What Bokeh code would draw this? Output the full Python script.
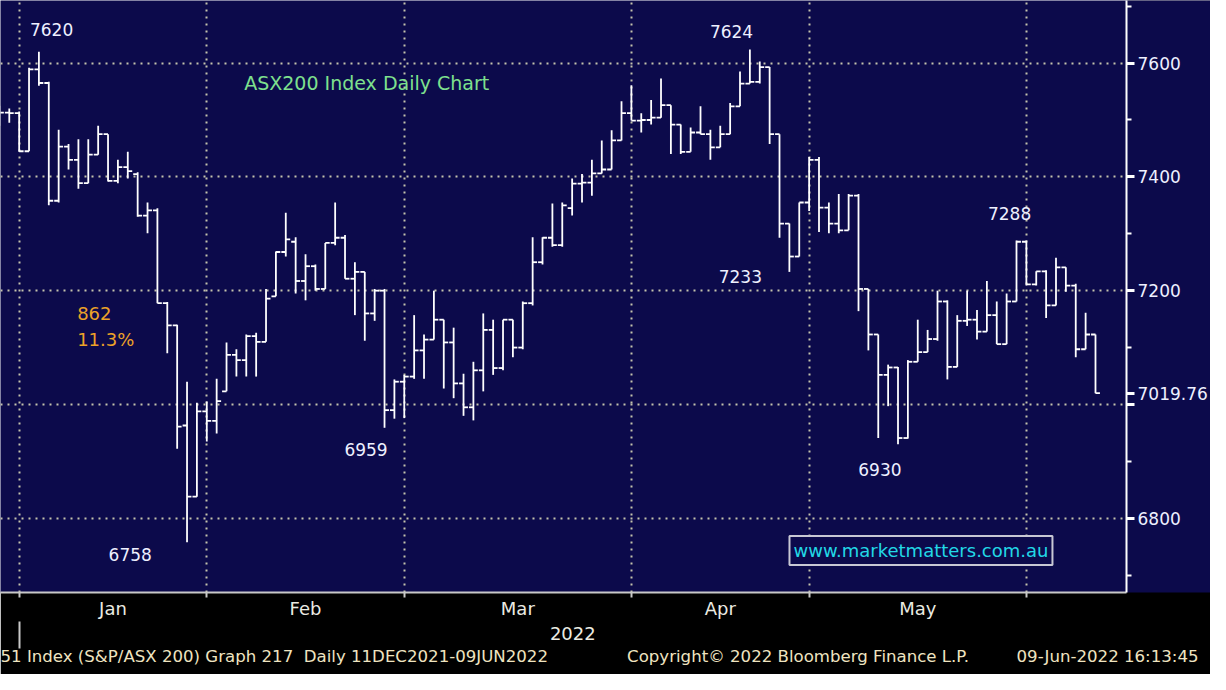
from bokeh.plotting import figure
from bokeh.models import Range1d, LinearAxis, FixedTicker, Label, ColumnDataSource, Title
from bokeh.embed import file_html
from bokeh.resources import INLINE

# ---------------- data ----------------
dates = [
    "2021-12-29", "2021-12-30", "2021-12-31",
    "2022-01-04", "2022-01-05", "2022-01-06", "2022-01-07", "2022-01-10", "2022-01-11", "2022-01-12",
    "2022-01-13", "2022-01-14", "2022-01-17", "2022-01-18", "2022-01-19", "2022-01-20", "2022-01-21",
    "2022-01-24", "2022-01-25", "2022-01-27", "2022-01-28", "2022-01-31",
    "2022-02-01", "2022-02-02", "2022-02-03", "2022-02-04", "2022-02-07", "2022-02-08", "2022-02-09",
    "2022-02-10", "2022-02-11", "2022-02-14", "2022-02-15", "2022-02-16", "2022-02-17", "2022-02-18",
    "2022-02-21", "2022-02-22", "2022-02-23", "2022-02-24", "2022-02-25", "2022-02-28",
    "2022-03-01", "2022-03-02", "2022-03-03", "2022-03-04", "2022-03-07", "2022-03-08", "2022-03-09",
    "2022-03-10", "2022-03-11", "2022-03-14", "2022-03-15", "2022-03-16", "2022-03-17", "2022-03-18",
    "2022-03-21", "2022-03-22", "2022-03-23", "2022-03-24", "2022-03-25", "2022-03-28", "2022-03-29",
    "2022-03-30", "2022-03-31",
    "2022-04-01", "2022-04-04", "2022-04-05", "2022-04-06", "2022-04-07", "2022-04-08", "2022-04-11",
    "2022-04-12", "2022-04-13", "2022-04-14", "2022-04-19", "2022-04-20", "2022-04-21", "2022-04-22",
    "2022-04-26", "2022-04-27", "2022-04-28", "2022-04-29",
    "2022-05-02", "2022-05-03", "2022-05-04", "2022-05-05", "2022-05-06", "2022-05-09", "2022-05-10",
    "2022-05-11", "2022-05-12", "2022-05-13", "2022-05-16", "2022-05-17", "2022-05-18", "2022-05-19",
    "2022-05-20", "2022-05-23", "2022-05-24", "2022-05-25", "2022-05-26", "2022-05-27", "2022-05-30",
    "2022-05-31",
    "2022-06-01", "2022-06-02", "2022-06-03", "2022-06-06", "2022-06-07", "2022-06-08", "2022-06-09",
]

opens = [
    7510, 7513, 7512,
    7445, 7589, 7565, 7358, 7453, 7430, 7389, 7439, 7475, 7393, 7417, 7405, 7332, 7341, 7178, 7139,
    6963, 6838, 6988,
    6971, 7023, 7087, 7078, 7120, 7110, 7190, 7268, 7286, 7217, 7243, 7203, 7284, 7293, 7221, 7233,
    7160, 7200, 6990, 7040,
    7049, 7095, 7114, 7149, 7109, 7037, 6995, 7060, 7131, 7064, 7149, 7100, 7178, 7250, 7293, 7280,
    7345, 7388, 7390, 7406, 7413, 7464, 7512,
    7499, 7500, 7504, 7526, 7492, 7444, 7478, 7475, 7452, 7475, 7524, 7564, 7567, 7593, 7475, 7318,
    7260, 7355,
    7430, 7346, 7318, 7306, 7367, 7203, 7123, 7052, 7065, 6941, 7075, 7092, 7115, 7181, 7066, 7147,
    7149, 7128, 7157, 7106, 7181, 7286,
    7211, 7234, 7174, 7241, 7209, 7097, 7123,
]
highs = [
    7525, 7520, 7515,
    7592, 7620, 7567, 7483, 7458, 7466, 7466, 7490, 7475, 7430, 7444, 7408, 7355, 7345, 7180, 7140,
    7040, 7003, 7005,
    7045, 7109, 7097, 7123, 7126, 7203, 7269, 7337, 7294, 7264, 7246, 7284, 7355, 7298, 7250, 7233,
    7203, 7203, 7044, 7052,
    7157, 7123, 7200, 7149, 7135, 7054, 7075, 7160, 7149, 7149, 7149, 7181, 7294, 7294, 7353, 7355,
    7397, 7405, 7430, 7464, 7482, 7533, 7561,
    7512, 7535, 7573, 7526, 7492, 7487, 7524, 7483, 7490, 7530, 7585, 7624, 7603, 7593, 7475, 7318,
    7355, 7435,
    7435, 7355, 7370, 7370, 7370, 7203, 7123, 7070, 7066, 7078, 7149, 7131, 7200, 7183, 7157, 7200,
    7166, 7217, 7181, 7195, 7288, 7288,
    7234, 7236, 7258, 7241, 7212, 7161, 7123,
]
lows = [
    7490, 7495, 7444,
    7445, 7560, 7350, 7355, 7413, 7379, 7389, 7439, 7392, 7389, 7397, 7330, 7301, 7178, 7090, 6922,
    6758, 6838, 6935,
    6949, 7023, 7049, 7049, 7049, 7110, 7190, 7260, 7195, 7183, 7200, 7203, 7280, 7221, 7157, 7112,
    7147, 6959, 6975, 6976,
    7045, 7045, 7114, 7028, 7011, 6980, 6972, 7023, 7052, 7060, 7083, 7097, 7174, 7246, 7277, 7277,
    7332, 7355, 7367, 7406, 7413, 7464, 7499,
    7478, 7492, 7504, 7440, 7440, 7444, 7475, 7430, 7452, 7475, 7524, 7564, 7564, 7458, 7293, 7233,
    7260, 7340,
    7303, 7301, 7301, 7306, 7164, 7095, 6941, 6997, 6930, 6940, 7075, 7092, 7112, 7044, 7066, 7138,
    7114, 7128, 7106, 7106, 7181, 7209,
    7209, 7152, 7174, 7198, 7083, 7097, 7019.76,
]
closes = [
    7513, 7512, 7445,
    7589, 7565, 7358, 7453, 7430, 7389, 7439, 7475, 7393, 7417, 7410, 7332, 7341, 7178, 7139, 6961,
    6838, 6988, 6971,
    7006, 7087, 7078, 7120, 7110, 7186, 7268, 7290, 7217, 7243, 7203, 7284, 7293, 7221, 7233, 7160,
    7200, 6990, 7040, 7049,
    7095, 7114, 7149, 7109, 7037, 6995, 7060, 7131, 7064, 7149, 7100, 7178, 7250, 7293, 7280, 7350,
    7388, 7390, 7406, 7413, 7464, 7512, 7499,
    7500, 7504, 7526, 7492, 7444, 7478, 7475, 7452, 7475, 7524, 7564, 7567, 7593, 7475, 7318, 7260,
    7355, 7430,
    7346, 7318, 7306, 7367, 7203, 7123, 7052, 7065, 6941, 7075, 7092, 7115, 7181, 7066, 7147, 7149,
    7128, 7157, 7106, 7181, 7286, 7211,
    7234, 7174, 7241, 7209, 7097, 7123, 7019.76,
]

y_ticks = [6800, 7000, 7200, 7400, 7600]
y_minor_ticks = [6700, 6900, 7100, 7300, 7500, 7700]
month_names = ["Jan", "Feb", "Mar", "Apr", "May"]
year_text = "2022"
chart_title = "ASX200 Index Daily Chart"
website = "www.marketmatters.com.au"
footer_parts = ["51 Index (S&P/ASX 200) Graph 217\u00a0 Daily 11DEC2021-09JUN2022",
                "Copyright\u00a9 2022 Bloomberg Finance L.P.",
                "09-Jun-2022 16:13:45"]

# ---------------- derived ----------------
first_2022 = dates.index("2022-01-04")
idx = [k - first_2022 for k in range(len(dates))]
bounds = [idx[k] for k in range(len(dates) - 1) if dates[k][:7] != dates[k + 1][:7]]
mids = [(bounds[k] + bounds[k + 1]) / 2 for k in range(len(bounds) - 1)]
last_close = closes[-1]

TICK = 0.45
src = ColumnDataSource(dict(
    x=idx, o=opens, h=highs, l=lows, c=closes,
    xl=[v - TICK for v in idx], xr=[v + TICK for v in idx],
))

X0, X1 = -2.89, 111.14
Y0, Y1 = 6669.5, 7710.0

NAVY = "#0c0a4b"
GRID = "#c4c3ad"
FONT = "DejaVu Sans"

p = figure(width=1210, height=674, x_range=Range1d(X0, X1), y_range=Range1d(Y0, Y1),
           output_backend="svg", toolbar_location=None, y_axis_location="right",
           background_fill_color=NAVY, border_fill_color="black", outline_line_color=None,
           min_border_left=0, min_border_top=0, min_border_right=79, min_border_bottom=82)

# OHLC bars
BAR = dict(line_color="white", line_width=1.8)
p.segment(x0="x", y0="l", x1="x", y1="h", source=src, **BAR)
p.segment(x0="xl", y0="o", x1="x", y1="o", source=src, **BAR)
p.segment(x0="x", y0="c", x1="xr", y1="c", source=src, **BAR)

# right value axis (last price shown as its own tick label)
ya = p.yaxis[0]
ya.ticker = FixedTicker(ticks=sorted(y_ticks + [last_close]), minor_ticks=y_minor_ticks)
ya.major_label_overrides = {7000: "", last_close: f"{last_close:.2f}"}
ya.axis_line_color = "white"
ya.axis_line_width = 2
ya.major_tick_line_color = "white"
ya.major_tick_line_width = 3
ya.major_tick_in = 0
ya.major_tick_out = 8
ya.minor_tick_line_color = "white"
ya.minor_tick_line_width = 2
ya.minor_tick_in = 0
ya.minor_tick_out = 5
ya.major_label_text_color = "#eef0ff"
ya.major_label_text_font = FONT
ya.major_label_text_font_size = "17px"
ya.major_label_standoff = 3
if "background_fill_color" in ya.properties():
    ya.background_fill_color = NAVY

p.ygrid.ticker = FixedTicker(ticks=y_ticks)
p.ygrid.grid_line_color = GRID
p.ygrid.grid_line_width = 2
p.ygrid.grid_line_dash = "2 5"

# month axis
xa = p.xaxis[0]
xa.ticker = FixedTicker(ticks=mids, minor_ticks=bounds)
xa.major_label_overrides = {(int(m) if m == int(m) else m): n for m, n in zip(mids, month_names)}
xa.major_tick_line_color = None
xa.major_tick_out = 0
xa.major_tick_in = 0
xa.minor_tick_line_color = "#c8c8c8"
xa.minor_tick_line_width = 2
xa.minor_tick_in = 0
xa.minor_tick_out = 5
xa.axis_line_color = "#c8c8c8"
xa.axis_line_width = 2
xa.major_label_text_color = "#ebebe2"
xa.major_label_text_font = FONT
xa.major_label_text_font_size = "18px"
xa.major_label_standoff = 0

p.xgrid.ticker = FixedTicker(ticks=bounds)
p.xgrid.grid_line_color = GRID
p.xgrid.grid_line_width = 2
p.xgrid.grid_line_dash = "2 5"

# year axis
year_mid = (bounds[0] + X1) / 2
ya2 = LinearAxis(ticker=FixedTicker(ticks=[year_mid], minor_ticks=[bounds[0]]),
                 major_label_overrides={year_mid: year_text},
                 axis_line_color=None, major_tick_line_color=None, major_tick_out=0, major_tick_in=0,
                 minor_tick_line_color="#c8c8c8", minor_tick_line_width=2,
                 minor_tick_in=0, minor_tick_out=27,
                 major_label_text_color="#ebebe2", major_label_text_font=FONT,
                 major_label_text_font_size="18px", major_label_standoff=-22)
p.add_layout(ya2, "below")

# footer line (one text, gaps kept with non-breaking spaces)
footer_text = footer_parts[0] + "\u00a0" * 15 + footer_parts[1] + "\u00a0" * 9 + footer_parts[2]
p.add_layout(Title(text=footer_text, align="left", offset=0, standoff=4,
                   text_color="#efe4c0", text_font=FONT, text_font_size="16.6px",
                   text_font_style="normal"), "below")


# ---------------- annotations (positions in reference pixels) ----------------
def px(xp):
    return X0 + xp / 1146 * (X1 - X0)


def py(yp):
    return Y1 - yp / 606 * (Y1 - Y0)


def seg(d0, d1):
    return [k for k, d in enumerate(dates) if d0 <= d <= d1]


def add(text, xp, yp, color="#eef0ff", size="17px", align="center", **kw):
    p.add_layout(Label(x=px(xp), y=py(yp), text=text, text_color=color, text_font=FONT,
                       text_font_size=size, text_align=align, text_baseline="middle", **kw))


jan_hi = max(highs[k] for k in seg("2022-01-01", "2022-01-10"))
jan_lo = min(lows[k] for k in seg("2022-01-01", "2022-01-31"))
feb_lo = min(lows[k] for k in seg("2022-02-20", "2022-02-28"))
apr_hi = max(highs[k] for k in seg("2022-04-01", "2022-04-30"))
apr_lo = min(lows[k] for k in seg("2022-04-25", "2022-04-30"))
may_lo = min(lows[k] for k in seg("2022-05-01", "2022-05-31"))
may_hi = max(highs[k] for k in seg("2022-05-20", "2022-06-09"))

add(f"{jan_hi:.0f}", 52, 30)
add(f"{apr_hi:.0f}", 744, 32)
add(f"{may_hi:.0f}", 1027, 218)
add(f"{apr_lo:.0f}", 753, 283)
add(f"{feb_lo:.0f}", 372, 460)
add(f"{may_lo:.0f}", 895, 480)
add(f"{jan_lo:.0f}", 132, 567)

drop = jan_hi - jan_lo
add(f"{drop:.0f}", 78, 320, color="#eca228", size="18px", align="left")
add(f"{drop / jan_hi * 100:.1f}%", 78, 347, color="#eca228", size="18px", align="left")

add(chart_title, 248, 84, color="#7ee08e", size="19px", align="left")

web_kw = dict(background_fill_color=NAVY, border_line_color="#c8c8d4", border_line_width=2)
if "padding" in Label.properties():
    web_kw["padding"] = 4
add(website, 803, 563, color="#22d8e6", size="18px", align="left", **web_kw)

open("out.html", "w").write(file_html(p, INLINE))
